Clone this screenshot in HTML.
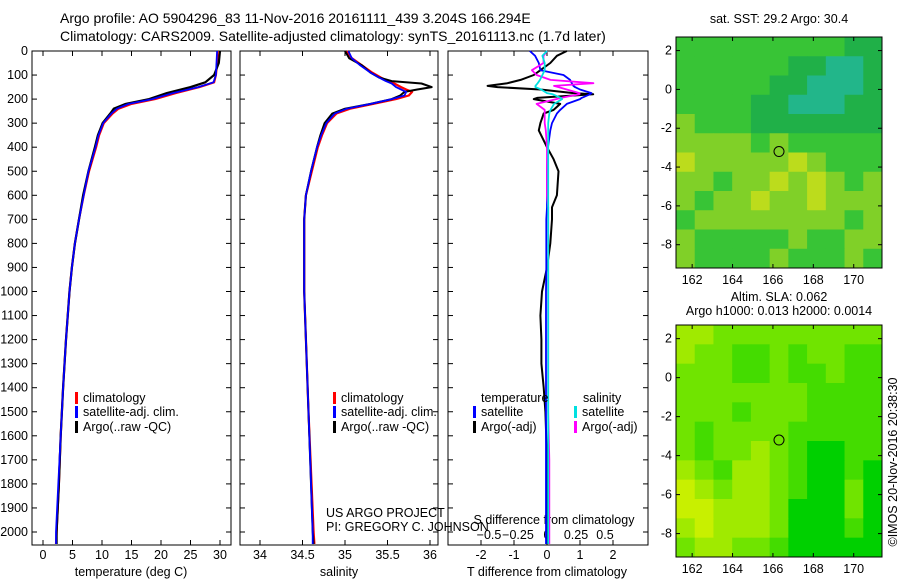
<!DOCTYPE html>
<html><head><meta charset="utf-8"><style>
body{margin:0;background:#fff;}
svg{display:block;font-family:"Liberation Sans",sans-serif;}
text{font-size:12.5px;fill:#000;}
.ttl{font-size:14px;}
</style></head><body>
<svg id="c" width="900" height="580" xmlns="http://www.w3.org/2000/svg"></svg>
<script>
// ---- data ----
const tDepth=[0,50,100,130,150,175,200,220,240,260,300,350,400,500,600,700,800,900,1000,1200,1400,1600,1800,2000,2050];
const tClim=[29.6,29.5,29.3,29.0,26.5,22.5,19.0,15.0,12.8,11.8,10.3,9.5,9.0,7.8,6.9,6.1,5.4,4.9,4.5,3.9,3.4,3.0,2.7,2.3,2.2];
const tSat=[29.5,29.4,29.3,28.9,26.3,22.0,18.5,14.5,12.5,11.6,10.2,9.4,8.9,7.7,6.9,6.1,5.4,4.9,4.5,3.9,3.4,3.0,2.6,2.2,2.2];
const tArgo=[30.0,29.8,29.0,27.5,25.0,21.0,18.0,14.0,12.0,11.4,10.1,9.3,8.8,7.7,6.8,6.1,5.4,4.9,4.5,3.9,3.4,3.0,2.7,2.3,2.3];
const sDepth=[0,30,60,90,110,125,135,150,160,170,185,200,220,240,260,300,350,400,500,600,700,1000,1500,2000,2050];
const sClim=[35.02,35.08,35.2,35.32,35.42,35.5,35.58,35.66,35.72,35.79,35.75,35.6,35.33,35.06,34.9,34.79,34.73,34.68,34.61,34.54,34.52,34.52,34.57,34.63,34.64];
const sSat=[35.04,35.08,35.18,35.3,35.4,35.48,35.55,35.6,35.66,35.72,35.7,35.55,35.3,35.02,34.88,34.78,34.72,34.67,34.6,34.54,34.52,34.52,34.57,34.62,34.62];
const sArgo=[35.0,35.05,35.2,35.3,35.4,35.55,35.9,36.02,35.85,35.7,35.65,35.55,35.3,35.0,34.85,34.76,34.71,34.67,34.6,34.54,34.52,34.52,34.57,34.62,34.63];
const dDepth=[0,20,50,80,100,120,134,145,150,160,175,180,195,200,220,245,260,300,330,400,450,500,600,650,700,800,900,1000,1100,1200,1300,1400,1500,1700,2000,2050];
const dTsat=[-0.52,-0.36,-0.25,-0.2,0.5,0.7,0.75,0.8,0.85,1.0,1.35,1.3,1.05,1.0,0.6,0.4,0.3,0.15,0.1,0.03,0.01,0,0,0,-0.02,-0.02,-0.02,-0.03,-0.03,-0.03,-0.03,-0.03,-0.03,-0.03,-0.03,-0.03];
const dTargo=[0.6,0.3,0.1,-0.2,-0.4,-0.8,-1.2,-1.8,-1.5,-0.2,0.8,1.4,-0.3,-0.4,0.4,0.2,-0.1,-0.2,-0.25,0,0.2,0.35,0.3,0.15,0.15,0.1,0,-0.15,-0.2,-0.17,-0.17,-0.1,-0.05,0,0,0];
const dSsat=[0,-0.04,-0.02,-0.02,-0.04,-0.06,-0.08,-0.1,-0.1,-0.05,0,0.05,0.12,0.13,0.06,0.03,0.02,0.01,0.01,0.01,0.01,0.01,0.01,0.01,0.01,0.01,0.01,0.01,0.01,0.01,0.01,0.01,0.01,0.01,0.01,0.01];
const dSargo=[0,-0.03,-0.03,-0.13,-0.09,0.03,0.4,0.06,0.1,0.17,0.28,0.28,0.12,0.08,-0.09,-0.02,-0.02,-0.02,-0.01,0,0,0,0,0.01,0.01,0.01,0.01,0.01,0.01,0.01,0.01,0.01,0.01,0.02,0.02,0.02];
const depthTicks=[0,100,200,300,400,500,600,700,800,900,1000,1100,1200,1300,1400,1500,1600,1700,1800,1900,2000];
const tTicks=[0,5,10,15,20,25,30];
const sTicks=[34,34.5,35,35.5,36];
const dtTicks=[-2,-1,0,1,2];
const dsTicks=[-0.5,-0.25,0,0.25,0.5];
const lonTicks=[162,164,166,168,170];
const latTicks=[2,0,-2,-4,-6,-8];
const sstGrid=[
[2,2,2,2,2,2,2,2,2,1,1],[2,2,2,2,2,2,1,1,0,0,1],[2,2,2,2,2,1,1,0,0,0,1],[2,2,2,2,1,1,0,0,0,1,1],
[3,2,2,2,1,1,1,1,1,1,1],[3,3,3,3,2,3,2,2,2,2,2],[4,3,3,3,3,3,4,3,2,2,2],[3,3,2,3,3,4,3,4,3,2,3],
[3,2,3,3,4,3,3,4,3,3,3],[2,3,3,3,3,3,3,3,3,2,3],[3,2,2,2,2,2,3,2,2,3,3],[3,2,2,2,2,3,2,2,2,3,2]];
const slaGrid=[
[3,3,2,2,2,2,2,2,2,2,2],[3,2,2,1,1,2,1,2,2,1,1],[2,2,2,1,1,2,1,1,2,1,1],[2,2,2,2,2,2,2,1,1,1,1],
[2,2,2,1,2,2,2,1,1,1,1],[2,1,2,2,2,2,1,1,1,1,1],[2,1,2,2,3,2,1,0,0,1,1],[3,2,1,3,3,2,1,0,0,1,0],
[4,3,2,3,3,2,1,0,0,2,0],[4,4,3,3,3,2,0,0,0,2,0],[3,4,3,3,3,2,0,0,0,1,0],[2,3,3,2,2,1,0,0,0,0,0]];
const sstColors=["#22b68a","#20b048","#38c436","#80d028","#bcdc1c"];
const slaColors=["#00d000","#44dc00","#70e400","#a0ea00","#c8f000"];
const floatLon=166.3, floatLat=-3.2;

// ---- drawing ----
const S=document.getElementById('c');const NS="http://www.w3.org/2000/svg";
function mk(tag,attrs,parent){const e=document.createElementNS(NS,tag);for(const k in attrs)e.setAttribute(k,attrs[k]);(parent||S).appendChild(e);return e;}
function txt(x,y,s,anchor,parent){const t=mk('text',{x:x,y:y,'text-anchor':anchor||'start'},parent);t.textContent=s;return t;}
const Y0=51,Y1=545;const yD=d=>Y0+d*0.2405;
const panels=[{x0:32,x1:231},{x0:240,x1:438},{x0:448,x1:648}];
const xT=v=>43+v*5.9, xS=v=>260+(v-34)*85, xDT=v=>547+v*33, xDS=v=>547+v*116;

const t1=txt(60,23,"Argo profile: AO 5904296_83 11-Nov-2016 20161111_439 3.204S 166.294E");t1.setAttribute('class','ttl');

const t2=txt(60,41,"Climatology: CARS2009. Satellite-adjusted climatology: synTS_20161113.nc (1.7d later)");t2.setAttribute('class','ttl');


panels.forEach((p,i)=>{
  const g=mk('g',{});
  
  
  mk('rect',{x:p.x0,y:Y0,width:p.x1-p.x0,height:Y1-Y0,fill:'none',stroke:'#000','stroke-width':1},g);
  depthTicks.forEach(d=>{const y=yD(d);
    mk('line',{x1:p.x0,x2:p.x0+5,y1:y,y2:y,stroke:'#000'},g);
    mk('line',{x1:p.x1-5,x2:p.x1,y1:y,y2:y,stroke:'#000'},g);});
});
depthTicks.forEach(d=>{const t=txt(28,yD(d)+4,String(d),'end');});

function xticks(ticks,fx,labY){ticks.forEach(v=>{const x=fx(v);
  mk('line',{x1:x,x2:x,y1:Y0,y2:Y0+5,stroke:'#000'});mk('line',{x1:x,x2:x,y1:Y1-5,y2:Y1,stroke:'#000'});
  const t=txt(x,labY,String(v),'middle');});}
xticks(tTicks,xT,559);xticks(sTicks,xS,559);xticks(dtTicks,xDT,559);
dsTicks.forEach(v=>{const t=txt(xDS(v),539,String(v).replace('-','−'),'middle');});
txt(131,576,"temperature (deg C)",'middle');
txt(339,576,"salinity",'middle');
txt(547,576,"T difference from climatology",'middle');
txt(554,524,"S difference from climatology",'middle');
txt(326,517,"US ARGO PROJECT");
txt(326,531,"PI: GREGORY C. JOHNSON");

function line(depths,vals,fx,color,w,name){
  const pts=depths.map((d,i)=>fx(vals[i]).toFixed(1)+','+yD(d).toFixed(1)).join(' ');
  const e=mk('polyline',{points:pts,fill:'none',stroke:color,'stroke-width':w,'stroke-linejoin':'round'});
  }
line(tDepth,tClim,xT,'#ff0000',2.2,'temp-climatology-line');
line(tDepth,tArgo,xT,'#000',2.2,'temp-argo-line');
line(tDepth,tSat,xT,'#0000ff',1.8,'temp-satellite-line');
line(sDepth,sClim,xS,'#ff0000',2.2,'sal-climatology-line');
line(sDepth,sArgo,xS,'#000',2,'sal-argo-line');
line(sDepth,sSat,xS,'#0000ff',1.8,'sal-satellite-line');
line(dDepth,dTargo,xDT,'#000',2,'t-diff-argo-line');
line(dDepth,dTsat,xDT,'#0000ff',1.8,'t-diff-satellite-line');
line(dDepth,dSargo,xDS,'#ff00ff',1.8,'s-diff-argo-line');
line(dDepth,dSsat,xDS,'#00e0e0',1.8,'s-diff-satellite-line');

function legend(x,y,color,label){mk('rect',{x:x,y:y-10,width:3,height:12,fill:color});const t=txt(x+8,y,label);}
legend(75,402,'#ff0000','climatology');legend(75,416,'#0000ff','satellite-adj. clim.');legend(75,431,'#000','Argo(..raw -QC)');
legend(333,402,'#ff0000','climatology');legend(333,416,'#0000ff','satellite-adj. clim.');legend(333,431,'#000','Argo(..raw -QC)');
txt(481,402,'temperature');
txt(583,402,'salinity');
legend(473,416,'#0000ff','satellite');legend(473,431,'#000','Argo(-adj)');
legend(574,416,'#00e0e0','satellite');legend(574,431,'#ff00ff','Argo(-adj)');

function map(top,bottom,grid,colors,name){
  const L=676,R=882;const lon0=161.2,lon1=171.4,lat0=2.7,lat1=-9.2;
  const fx=v=>L+(v-lon0)*(R-L)/(lon1-lon0), fy=v=>top+(lat0-v)*(bottom-top)/(lat0-lat1);
  const g=mk('g',{});
  const rows=grid.length,cols=grid[0].length,cw=(R-L)/cols,ch=(bottom-top)/rows;
  grid.forEach((r,i)=>r.forEach((v,j)=>{const c=mk('rect',{x:L+j*cw,y:top+i*ch,width:cw+0.5,height:ch+0.5,fill:colors[v]},g);
    }));
  mk('rect',{x:L,y:top,width:R-L,height:bottom-top,fill:'none',stroke:'#000'},g);
  lonTicks.forEach(v=>{const x=fx(v);mk('line',{x1:x,x2:x,y1:top,y2:top+4,stroke:'#000'},g);mk('line',{x1:x,x2:x,y1:bottom-4,y2:bottom,stroke:'#000'},g);
    const t=txt(x,bottom+16,String(v),'middle',g);});
  latTicks.forEach(v=>{const y=fy(v);mk('line',{x1:L,x2:L+4,y1:y,y2:y,stroke:'#000'},g);mk('line',{x1:R-4,x2:R,y1:y,y2:y,stroke:'#000'},g);
    const t=txt(672,y+4,String(v),'end',g);});
  const m=mk('circle',{cx:fx(floatLon),cy:fy(floatLat),r:5,fill:'none',stroke:'#000','stroke-width':1},g);
  
}
map(37,268,sstGrid,sstColors,'sst-map');
map(325,557,slaGrid,slaColors,'sla-map');
txt(779,23,'sat. SST: 29.2 Argo: 30.4','middle');
txt(779,301,'Altim. SLA: 0.062','middle');
txt(779,315,'Argo h1000: 0.013 h2000: 0.0014','middle');
const cp=txt(0,0,'©IMOS 20-Nov-2016 20:38:30','middle');cp.setAttribute('transform','translate(897,462) rotate(-90)');

</script>
</body></html>
